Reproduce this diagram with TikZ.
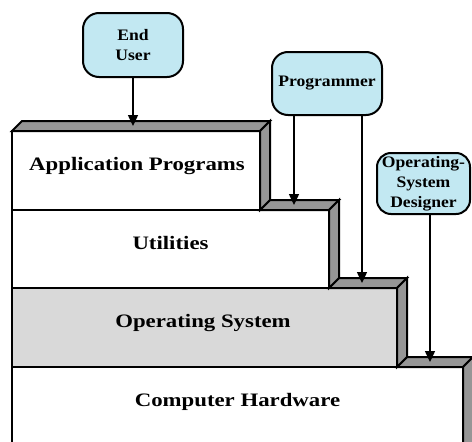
\documentclass[tikz,border=0pt]{standalone}
\usepackage{fontspec}
\setmainfont{Liberation Serif}
\usepackage{graphicx}
\usetikzlibrary{arrows.meta}
\definecolor{actorblue}{RGB}{194,232,242}
\definecolor{sidegray}{RGB}{150,150,150}
\definecolor{osgray}{RGB}{217,217,217}
\newcommand{\lx}[1]{\scalebox{1.2}[1]{#1}}
\newcommand{\ax}[1]{\scalebox{1.1}[1]{#1}}
\begin{document}
\begin{tikzpicture}[x=1pt,y=-1pt,
 face/.style={draw=black, line width=2pt, line join=miter},
 sideface/.style={face, fill=sidegray},
 layertext/.style={font=\bfseries\fontsize{19}{21}\selectfont, anchor=base, inner sep=0pt},
 actor/.style={draw=black, line width=2pt, fill=actorblue, rounded corners=16pt, align=center, font=\bfseries\fontsize{16}{20}\selectfont, inner sep=0pt},
 arr/.style={line width=1.5pt, -{Triangle[length=11pt,width=10pt]}}]
\useasboundingbox (0,0) rectangle (472,442);
\clip (0,0) rectangle (472,442);
% Computer Hardware
\draw[face, fill=white] (12,367) rectangle (463,452);
\draw[sideface] (397,367) -- (407,357) -- (473,357) -- (463,367) -- cycle;
\draw[sideface] (463,367) -- (473,357) -- (473,452) -- (463,452) -- cycle;
% Operating System
\draw[face, fill=osgray] (12,288) rectangle (397,367);
\draw[sideface] (329,288) -- (339,278) -- (407,278) -- (397,288) -- cycle;
\draw[sideface] (397,288) -- (407,278) -- (407,357) -- (397,367) -- cycle;
% Utilities
\draw[face, fill=white] (12,210) rectangle (329,288);
\draw[sideface] (260,210) -- (270,200) -- (339,200) -- (329,210) -- cycle;
\draw[sideface] (329,210) -- (339,200) -- (339,278) -- (329,288) -- cycle;
% Application Programs
\draw[face, fill=white] (12,131) rectangle (260,210);
\draw[sideface] (12,131) -- (22,121) -- (270,121) -- (260,131) -- cycle;
\draw[sideface] (260,131) -- (270,121) -- (270,200) -- (260,210) -- cycle;
% layer labels
\node[layertext] (tapp) at (137,170) {\lx{Application Programs}};
\node[layertext] (tutil) at (170.5,249) {\lx{Utilities}};
\node[layertext] (tos) at (203,327) {\lx{Operating System}};
\node[layertext] (thw) at (237.5,406) {\lx{Computer Hardware}};
% actors
\node[actor, minimum width=100pt, minimum height=64pt] (user) at (133,45) {\ax{End}\\\ax{User}};
\node[actor, minimum width=110pt, minimum height=63pt] (prog) at (327,83.5) {\ax{Programmer}};
\node[actor, minimum width=93pt, minimum height=61pt, rounded corners=14pt] (osd) at (423.5,183.5) {\ax{Operating-}\\\ax{System}\\\ax{Designer}};
% targets
\coordinate (apptop) at (133,126);
\coordinate (utiltop) at (294,205);
\coordinate (ostop) at (362,283);
\coordinate (hwtop) at (430,362);
% connectors
\draw[arr] (user.south) -- (apptop);
\draw[arr] (prog.south -| utiltop) -- (utiltop);
\draw[arr] (prog.south -| ostop) -- (ostop);
\draw[arr] (osd.south -| hwtop) -- (hwtop);
\end{tikzpicture}
\end{document}
